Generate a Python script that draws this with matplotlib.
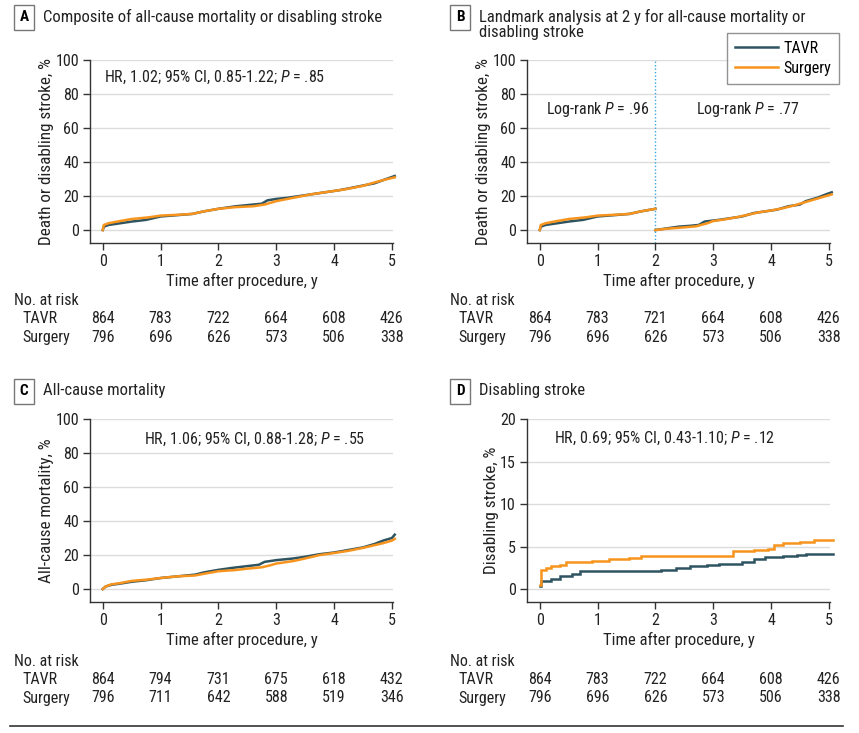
import numpy as np
import matplotlib
matplotlib.use("Agg")
import matplotlib.pyplot as plt
from matplotlib.transforms import blended_transform_factory

FONT = 'Roboto Condensed'
plt.rcParams['font.family'] = [FONT, 'DejaVu Sans']
plt.rcParams['mathtext.fontset'] = 'custom'
plt.rcParams['mathtext.rm'] = FONT
plt.rcParams['mathtext.it'] = FONT + ':italic'

TAVR_COLOR = '#2e5461'
SURG_COLOR = '#f7941d'
TXT = '#222222'

# ---- data ----
# A: composite of death or disabling stroke
a_tavr_t = [0, 0.02, 0.1, 0.3, 0.5, 0.75, 1.0, 1.3, 1.55, 1.75, 2.0, 2.3, 2.6, 2.75, 2.85, 3.0, 3.2, 3.5, 3.8, 4.1, 4.4, 4.7, 4.9, 5.05]
a_tavr_y = [0, 2.0, 3.0, 4.0, 5.0, 6.0, 8.0, 8.8, 9.5, 11.0, 12.5, 14.0, 15.0, 15.5, 17.5, 18.3, 19.0, 20.5, 22.0, 23.5, 25.5, 27.5, 30.0, 31.8]
a_surg_t = [0, 0.02, 0.1, 0.25, 0.5, 0.8, 1.0, 1.3, 1.55, 1.75, 2.0, 2.3, 2.6, 2.8, 3.0, 3.3, 3.6, 3.9, 4.2, 4.5, 4.7, 4.9, 5.05]
a_surg_y = [0, 3.0, 4.0, 5.0, 6.5, 7.5, 8.5, 9.0, 9.5, 11.0, 12.5, 13.5, 14.0, 15.0, 17.0, 19.0, 21.0, 22.5, 24.0, 26.0, 28.0, 29.8, 31.0]

# B: landmark at 2 y
b1_tavr_t = [0, 0.02, 0.1, 0.3, 0.5, 0.75, 1.0, 1.3, 1.55, 1.75, 2.0]
b1_tavr_y = [0, 2.0, 3.0, 4.0, 5.0, 6.0, 8.0, 8.8, 9.5, 11.0, 12.5]
b1_surg_t = [0, 0.02, 0.1, 0.25, 0.5, 0.8, 1.0, 1.3, 1.55, 1.75, 2.0]
b1_surg_y = [0, 3.0, 4.0, 5.0, 6.5, 7.5, 8.5, 9.0, 9.5, 11.0, 12.5]
b2_tavr_t = [2.0, 2.2, 2.4, 2.6, 2.75, 2.85, 3.1, 3.3, 3.5, 3.7, 3.9, 4.1, 4.3, 4.5, 4.6, 4.8, 4.95, 5.05]
b2_tavr_y = [0, 1.0, 2.0, 2.5, 3.0, 5.0, 6.0, 7.0, 8.0, 10.0, 11.0, 12.0, 14.0, 15.0, 17.0, 19.0, 21.0, 22.2]
b2_surg_t = [2.0, 2.2, 2.5, 2.7, 2.9, 3.0, 3.2, 3.4, 3.6, 3.8, 4.0, 4.2, 4.4, 4.6, 4.8, 4.95, 5.05]
b2_surg_y = [0, 0.8, 1.6, 2.2, 4.0, 5.3, 6.3, 7.5, 9.0, 10.5, 11.5, 12.8, 14.5, 16.5, 18.5, 20.0, 21.0]

# C: all-cause mortality
c_tavr_t = [0, 0.05, 0.15, 0.3, 0.5, 0.75, 1.0, 1.3, 1.6, 1.75, 2.0, 2.25, 2.5, 2.7, 2.8, 3.0, 3.3, 3.5, 3.75, 4.0, 4.25, 4.5, 4.7, 4.85, 5.0, 5.05]
c_tavr_y = [0, 1.5, 2.5, 3.2, 4.3, 5.2, 6.5, 7.5, 8.5, 9.8, 11.3, 12.5, 13.5, 14.3, 16.0, 17.0, 18.0, 19.0, 20.5, 21.5, 23.0, 24.5, 26.5, 28.5, 30.0, 32.0]
c_surg_t = [0, 0.05, 0.15, 0.3, 0.5, 0.75, 1.0, 1.3, 1.6, 1.75, 2.0, 2.3, 2.5, 2.75, 2.9, 3.0, 3.3, 3.5, 3.75, 4.0, 4.25, 4.5, 4.7, 4.85, 5.0, 5.05]
c_surg_y = [0, 1.5, 2.8, 3.5, 4.8, 5.5, 6.5, 7.5, 8.0, 9.0, 10.5, 11.2, 12.0, 12.8, 14.0, 15.0, 16.5, 18.0, 20.0, 21.2, 22.5, 24.2, 25.8, 27.0, 28.5, 29.5]

# D: disabling stroke
d_tavr_t = [0, 0.02, 0.2, 0.35, 0.55, 0.7, 1.4, 2.1, 2.35, 2.6, 2.9, 3.1, 3.5, 3.7, 3.9, 4.2, 4.45, 4.6, 5.07]
d_tavr_y = [0.4, 1.0, 1.2, 1.5, 1.8, 2.1, 2.2, 2.3, 2.5, 2.7, 2.8, 3.0, 3.2, 3.5, 3.8, 3.9, 4.0, 4.1, 4.1]
d_surg_t = [0, 0.02, 0.1, 0.2, 0.35, 0.45, 0.9, 1.2, 1.55, 1.75, 3.3, 3.35, 3.7, 3.95, 4.05, 4.2, 4.5, 4.75, 5.07]
d_surg_y = [0.5, 2.3, 2.5, 2.7, 2.9, 3.2, 3.3, 3.5, 3.7, 3.9, 3.9, 4.45, 4.6, 4.7, 5.2, 5.4, 5.6, 5.8, 5.8]

years = [0, 1, 2, 3, 4, 5]
risk_a_tavr = [864, 783, 722, 664, 608, 426]
risk_a_surg = [796, 696, 626, 573, 506, 338]
risk_b_tavr = [864, 783, 721, 664, 608, 426]
risk_b_surg = [796, 696, 626, 573, 506, 338]
risk_c_tavr = [864, 794, 731, 675, 618, 432]
risk_c_surg = [796, 711, 642, 588, 519, 346]
risk_d_tavr = [864, 783, 722, 664, 608, 426]
risk_d_surg = [796, 696, 626, 573, 506, 338]

W, H = 859, 733
fig = plt.figure(figsize=(W / 100, H / 100), dpi=100)


def px(x, y):
    # pixel position -> figure fraction
    return x / W, 1 - y / H


def make_axes(left, bottom, ylim, yticks, ylabel):
    ax = fig.add_axes([left / W, 1 - bottom / H, 303 / W, 183 / H])
    ax.set_xlim(-0.22, 5.02)
    ax.set_ylim(*ylim)
    ax.set_xticks(years)
    ax.set_yticks(yticks)
    for s in ['top', 'right']:
        ax.spines[s].set_visible(False)
    for s in ['left', 'bottom']:
        ax.spines[s].set_color('#333333')
        ax.spines[s].set_linewidth(1.0)
    ax.tick_params(direction='out', length=5, width=1.0, color='#333333',
                   labelsize=11.5, labelcolor=TXT, pad=3)
    ax.yaxis.grid(True, color='#dcdcdc', linewidth=1.0)
    ax.set_axisbelow(True)
    ax.set_xlabel('Time after procedure, y', fontsize=12, color=TXT, labelpad=3)
    ax.set_ylabel(ylabel, fontsize=12.3, color=TXT, labelpad=1)
    return ax


def title(xbox, ybox, letter, lines):
    fig.text(*px(xbox, ybox), letter, fontsize=11, fontweight='bold', ha='center', va='center',
             bbox=dict(boxstyle='square,pad=0.36', fc='white', ec='#777777', lw=1.0))
    fig.text(*px(xbox + 19, ybox - 8), lines, fontsize=12, ha='left', va='top',
             color=TXT, linespacing=0.98)


def risk_table(ax, xleft, ytop, tavr, surg):
    fig.text(*px(xleft, ytop), 'No. at risk', fontsize=11.5, ha='left', va='center', color=TXT)
    fig.text(*px(xleft + 8, ytop + 18), 'TAVR', fontsize=11.5, ha='left', va='center', color=TXT)
    fig.text(*px(xleft + 8, ytop + 37), 'Surgery', fontsize=11.5, ha='left', va='center', color=TXT)
    tr = blended_transform_factory(ax.transData, fig.transFigure)
    for x, a, b in zip(years, tavr, surg):
        ax.text(x, 1 - (ytop + 18) / H, str(a), transform=tr, fontsize=11.5, ha='center', va='center', color=TXT)
        ax.text(x, 1 - (ytop + 37) / H, str(b), transform=tr, fontsize=11.5, ha='center', va='center', color=TXT)


kw = dict(linewidth=1.8, solid_joinstyle='miter', clip_on=False)
kw_step = dict(kw, drawstyle='steps-post')

# A
axA = make_axes(90, 243, (-7.6, 100), [0, 20, 40, 60, 80, 100], 'Death or disabling stroke, %')
axA.plot(a_tavr_t, a_tavr_y, color=TAVR_COLOR, **kw)
axA.plot(a_surg_t, a_surg_y, color=SURG_COLOR, **kw)
axA.text(0.03, 90, 'HR, 1.02; 95% CI, 0.85-1.22; $\\mathit{P}$ = .85', fontsize=11.5, ha='left', va='center', color=TXT)
title(24, 17, 'A', 'Composite of all-cause mortality or disabling stroke')
risk_table(axA, 14, 301, risk_a_tavr, risk_a_surg)

# B
axB = make_axes(527, 243, (-7.6, 100), [0, 20, 40, 60, 80, 100], 'Death or disabling stroke, %')
axB.axvline(2, color='#3aa6dd', linestyle=(0, (1, 1.5)), linewidth=1.0)
l1, = axB.plot(b1_tavr_t, b1_tavr_y, color=TAVR_COLOR, label='TAVR', **kw)
l2, = axB.plot(b1_surg_t, b1_surg_y, color=SURG_COLOR, label='Surgery', **kw)
axB.plot(b2_tavr_t, b2_tavr_y, color=TAVR_COLOR, **kw)
axB.plot(b2_surg_t, b2_surg_y, color=SURG_COLOR, **kw)
axB.text(0.1, 71, 'Log-rank $\\mathit{P}$ = .96', fontsize=11.5, ha='left', va='center', color=TXT)
axB.text(2.7, 71, 'Log-rank $\\mathit{P}$ = .77', fontsize=11.5, ha='left', va='center', color=TXT)
title(460, 17, 'B', 'Landmark analysis at 2 y for all-cause mortality or\ndisabling stroke')
risk_table(axB, 450, 301, risk_b_tavr, risk_b_surg)
leg = axB.legend(handles=[l1, l2], loc='upper right', bbox_to_anchor=(839 / W, 1 - 33 / H),
                 bbox_transform=fig.transFigure, fontsize=11.5, frameon=True, fancybox=False,
                 edgecolor='#777777', handlelength=2.7, handletextpad=0.3, borderpad=0.5,
                 labelspacing=0.3, borderaxespad=0)
leg.get_frame().set_linewidth(1.0)

# C
axC = make_axes(90, 602, (-7.6, 100), [0, 20, 40, 60, 80, 100], 'All-cause mortality, %')
axC.plot(c_tavr_t, c_tavr_y, color=TAVR_COLOR, **kw)
axC.plot(c_surg_t, c_surg_y, color=SURG_COLOR, **kw)
axC.text(0.71, 88, 'HR, 1.06; 95% CI, 0.88-1.28; $\\mathit{P}$ = .55', fontsize=11.5, ha='left', va='center', color=TXT)
title(24, 391, 'C', 'All-cause mortality')
risk_table(axC, 14, 661, risk_c_tavr, risk_c_surg)

# D
axD = make_axes(527, 602, (-1.5, 20), [0, 5, 10, 15, 20], 'Disabling stroke, %')
axD.plot(d_tavr_t, d_tavr_y, color=TAVR_COLOR, **kw_step)
axD.plot(d_surg_t, d_surg_y, color=SURG_COLOR, **kw_step)
axD.text(0.24, 17.7, 'HR, 0.69; 95% CI, 0.43-1.10; $\\mathit{P}$ = .12', fontsize=11.5, ha='left', va='center', color=TXT)
title(460, 391, 'D', 'Disabling stroke')
risk_table(axD, 450, 661, risk_d_tavr, risk_d_surg)

# bottom rule
fig.add_artist(plt.Line2D([10 / W, 843 / W], [1 - 726 / H, 1 - 726 / H], color='#333333', linewidth=1.2))

fig.savefig('out.png', dpi=100)
